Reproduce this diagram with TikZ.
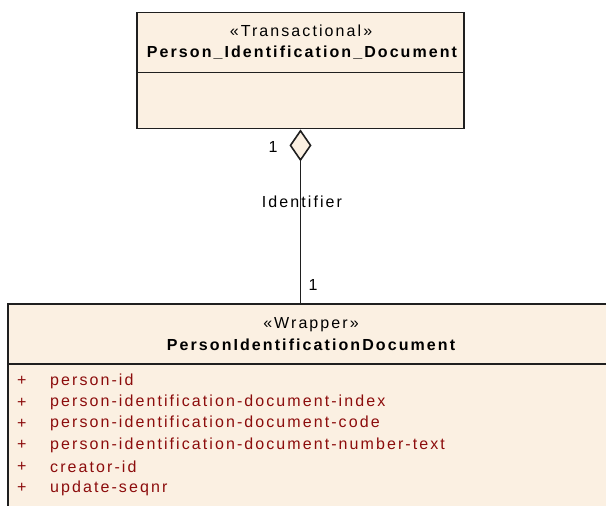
\documentclass[tikz,border=0pt]{standalone}
\usepackage{fontspec}
\setmainfont{Liberation Sans}
\newfontfamily\umlfont[LetterSpace=13]{Liberation Sans}
\usetikzlibrary{arrows.meta,positioning}
\definecolor{umlfill}{RGB}{251,240,226}
\definecolor{attrred}{RGB}{140,12,12}
\tikzset{
  classbox/.style={rectangle, draw=black!88, line width=1.8pt, fill=umlfill, inner sep=0pt},
  sep/.style={draw=black!88, line width=1.8pt},
  stereo/.style={font=\umlfont\fontsize{16}{18}\selectfont},
  cname/.style={font=\umlfont\bfseries\fontsize{16}{18}\selectfont},
  attr/.style={font=\umlfont\fontsize{16}{18}\selectfont, text=attrred, anchor=west, inner sep=0pt},
  mult/.style={font=\umlfont\fontsize{16}{18}\selectfont},
  assoc/.style={{Diamond[width=22pt,length=32pt,fill=umlfill,line width=1.6pt]}-, line width=1.8pt, draw=black!88},
}

\begin{document}
\begin{tikzpicture}[x=1pt, y=-1pt]
  \useasboundingbox (0,0) rectangle (606,506);
  % transactional class
  \node[classbox, minimum width=327pt, minimum height=116pt] (pid) at (300.5,70.5) {};
  \draw[sep] (pid.west |- 0,72.5) -- (pid.east |- 0,72.5);
  \node[stereo] (pidst) at (301,31) {«Transactional»};
  \node[cname] (pidname) at (302,53) {Person\_Identification\_Document};
  % wrapper class, runs off the page
  \node[classbox, anchor=north west, minimum width=640pt, minimum height=230pt] (pidw) at (7,303) {};
  \draw[sep] (pidw.west |- 0,364) -- (pidw.east |- 0,364);
  \node[stereo] (pidwst) at (311,325) {«Wrapper»};
  \node[cname] (pidwname) at (311,345) {PersonIdentificationDocument};
  \foreach \a [count=\i] in {person-id, person-identification-document-index,
      person-identification-document-code, person-identification-document-number-text,
      creator-id, update-seqnr} {
    \node[attr] (plus\i) at (17,{381+21.4*(\i-1)}) {+};
    \node[attr] (attr\i) at (50,{381+21.4*(\i-1)}) {\a};
  }
  % association
  \coordinate (wtop) at (pid.south |- pidw.north);
  \draw[assoc] (pid.south) -- (wtop);
  \node[mult] (m1) at (273,147) {1};
  \node[mult] (role) at (302,202) {Identifier};
  \node[mult] (m2) at (313,285) {1};
\end{tikzpicture}
\end{document}
